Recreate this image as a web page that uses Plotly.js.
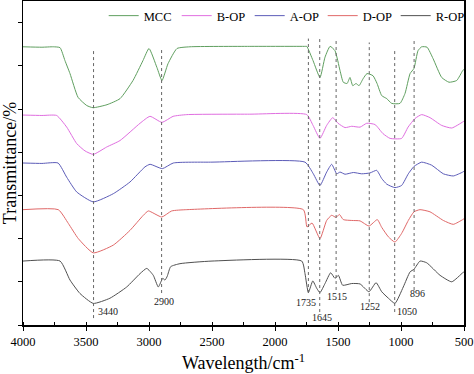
<!DOCTYPE html>
<html>
<head>
<meta charset="utf-8">
<script src="https://cdn.plot.ly/plotly-3.0.1.min.js"></script>
<style>html,body{margin:0;padding:0;background:#fff;}#chart{width:474px;height:374px;}</style>
</head>
<body>
<div id="chart"></div>
<script>
// Wavenumbers (cm^-1) and offset transmittance values for each spectrum
const mccX = [4000,3850,3760,3706,3667,3627,3563,3494,3444,3333,3230,3127,3048,3000,2937,2897,2849,2778,2675,2200,1760,1748,1698,1643,1603,1563,1524,1484,1458,1428,1405,1383,1357,1333,1301,1270,1222,1190,1153,1113,1074,1008,968,928,897,865,836,793,746,677,619,558,510,500];
const mccY = [64.4,64.3,64.4,64.2,61.2,58.2,52.7,50.8,50.3,51.0,52.4,56.6,61.2,64.0,59.6,56.6,60.5,64.0,64.4,64.5,64.5,64.5,61.2,57.3,62.0,64.5,63.5,58.9,56.2,55.9,57.3,55.4,55.9,55.4,57.0,58.2,57.7,55.9,53.1,52.4,51.3,51.3,53.6,58.2,59.4,63.5,64.4,64.3,61.7,57.3,56.2,56.6,58.9,59.2];

const bopX = [4000,3850,3733,3653,3574,3508,3442,3336,3230,3071,2992,2897,2809,2700,2200,1748,1698,1643,1590,1542,1500,1444,1391,1325,1272,1206,1143,1087,995,944,889,836,770,677,597,510,500];
const bopY = [48.6,48.5,48.5,45.8,42.0,40.3,39.5,41.2,42.7,46.7,48.3,46.9,48.3,48.7,48.8,48.7,46.2,43.2,46.2,48.0,46.7,45.7,46.0,45.8,46.7,46.4,44.3,43.2,43.2,45.8,47.8,48.7,48.0,46.2,45.6,47.0,47.2];

const aopX = [4000,3850,3722,3653,3574,3442,3283,3151,3032,2992,2894,2807,2500,1762,1696,1643,1590,1550,1510,1484,1444,1378,1312,1246,1193,1153,1113,1048,995,942,897,836,757,664,585,510,500];
const aopY = [37.5,37.4,37.5,34.2,30.8,28.5,30.4,33.1,36.6,37.2,36.2,37.5,37.7,37.7,35.0,32.3,35.4,37.2,35.0,35.4,34.9,35.3,35.0,35.2,35.8,33.9,32.6,31.8,32.3,35.0,36.7,37.7,37.0,35.0,34.5,35.4,35.6];

const dopX = [4000,3720,3640,3561,3442,3283,3151,3045,3005,2899,2820,2700,1775,1746,1706,1643,1590,1550,1516,1489,1458,1391,1325,1254,1188,1153,1100,1048,995,942,897,849,770,664,585,510,500];
const dopY = [26.7,26.7,23.5,20.0,16.7,18.5,21.9,25.4,26.4,25.0,26.4,26.7,26.7,22.7,23.6,20.0,24.2,25.4,24.9,25.6,24.4,24.2,24.1,22.9,24.4,22.6,20.4,19.2,21.2,24.2,26.2,26.7,26.2,24.2,23.3,24.4,24.6];

const ropX = [4000,3706,3627,3548,3442,3310,3177,3071,3018,2966,2926,2891,2873,2855,2828,2754,2500,1788,1762,1735,1700,1669,1643,1603,1558,1524,1497,1463,1391,1325,1254,1198,1153,1100,1048,982,928,897,849,796,690,597,510,500];
const ropY = [14.8,14.8,10.4,7.3,5.0,6.2,8.8,11.9,13.1,11.5,8.8,10.8,10.4,11.3,13.5,14.2,14.8,14.8,11.9,7.5,10.2,8.5,7.5,9.6,12.1,10.8,11.5,9.2,9.6,9.5,7.7,9.8,7.7,6.2,5.0,8.8,12.3,12.9,14.8,14.4,11.5,10.0,12.1,12.3];

const seriesNames = ["MCC","B-OP","A-OP","D-OP","R-OP"];

// Marked band positions (cm^-1) and the vertical extent of their guide lines
const peakPos   = [3440, 2900, 1735, 1645, 1515, 1252, 1050, 896];
const peakTop   = [63.5, 64.0, 66.3, 66.3, 66.3, 65.4, 64.0, 65.8];
const peakBot   = [1.6, 7.4, 7.4, 3.0, 8.1, 5.3, 3.0, 8.1];
// Peak labels: text and label anchor position
const peakLabels = ["3440","2900","1735","1645","1515","1252","1050","896"];
const labelX    = [3329, 2881, 1754, 1627, 1508, 1246, 952, 873];
const labelY    = [3.2, 5.5, 5.1, 1.8, 6.5, 4.2, 3.2, 7.4];

const colors = ["#5f9f5f","#e06ee0","#5c5cb8","#e06868","#505050"];
const xs = [mccX,bopX,aopX,dopX,ropX];
const ys = [mccY,bopY,aopY,dopY,ropY];

const font = "'Liberation Serif', 'Times New Roman', Times, serif";

const traces = seriesNames.map((n,i)=>({
  x: xs[i], y: ys[i], name: n, type: "scatter", mode: "lines",
  line: {color: colors[i], width: 1, shape: "spline", smoothing: 0.5}
}));

const shapes = peakPos.map((p,i)=>({
  type: "line", xref: "x", yref: "y", x0: p, x1: p, y0: peakBot[i], y1: peakTop[i],
  line: {color: "#666", width: 1, dash: "dot"}
}));

const annotations = peakLabels.map((t,i)=>({
  xref: "x", yref: "y", x: labelX[i], y: labelY[i], text: t, showarrow: false,
  font: {family: font, size: 10, color: "#222"}, xanchor: "center", yanchor: "middle"
}));

const layout = {
  width: 474, height: 374,
  margin: {l: 23, r: 10, t: 1, b: 49, autoexpand: false},
  paper_bgcolor: "#fff", plot_bgcolor: "#fff",
  font: {family: font, color: "#000"},
  showlegend: true,
  legend: {orientation: "h", x: 0.183, y: 1.0, xanchor: "left", yanchor: "top",
           font: {family: font, size: 12.5, color: "#000"}, bgcolor: "rgba(0,0,0,0)",
           itemwidth: 30, tracegroupgap: 0, entrywidth: 28},
  xaxis: {
    range: [4000, 500], dtick: 500, tick0: 500,
    showline: true, linecolor: "#000", linewidth: 1.5, mirror: true,
    ticks: "outside", ticklen: 4, tickwidth: 1, tickcolor: "#000",
    minor: {dtick: 250, ticks: "inside", ticklen: 3, tickcolor: "#000"},
    showgrid: false, zeroline: false,
    tickfont: {family: font, size: 12.5, color: "#000"},
    title: {text: "Wavelength/cm<sup>-1</sup>", font: {family: font, size: 18, color: "#000"}, standoff: 9},
    automargin: false
  },
  yaxis: {
    range: [0, 75], dtick: 10, tick0: 0,
    showline: true, linecolor: "#000", linewidth: 1.5, mirror: true,
    ticks: "outside", ticklen: 4, tickwidth: 1, tickcolor: "#000",
    showticklabels: false, showgrid: false, zeroline: false,
    title: {text: "Transmittance/%", font: {family: font, size: 18, color: "#000"}, standoff: 1},
    automargin: false
  },
  shapes: shapes,
  annotations: annotations
};

Plotly.newPlot("chart", traces, layout, {staticPlot: true, displayModeBar: false});
</script>
</body>
</html>
